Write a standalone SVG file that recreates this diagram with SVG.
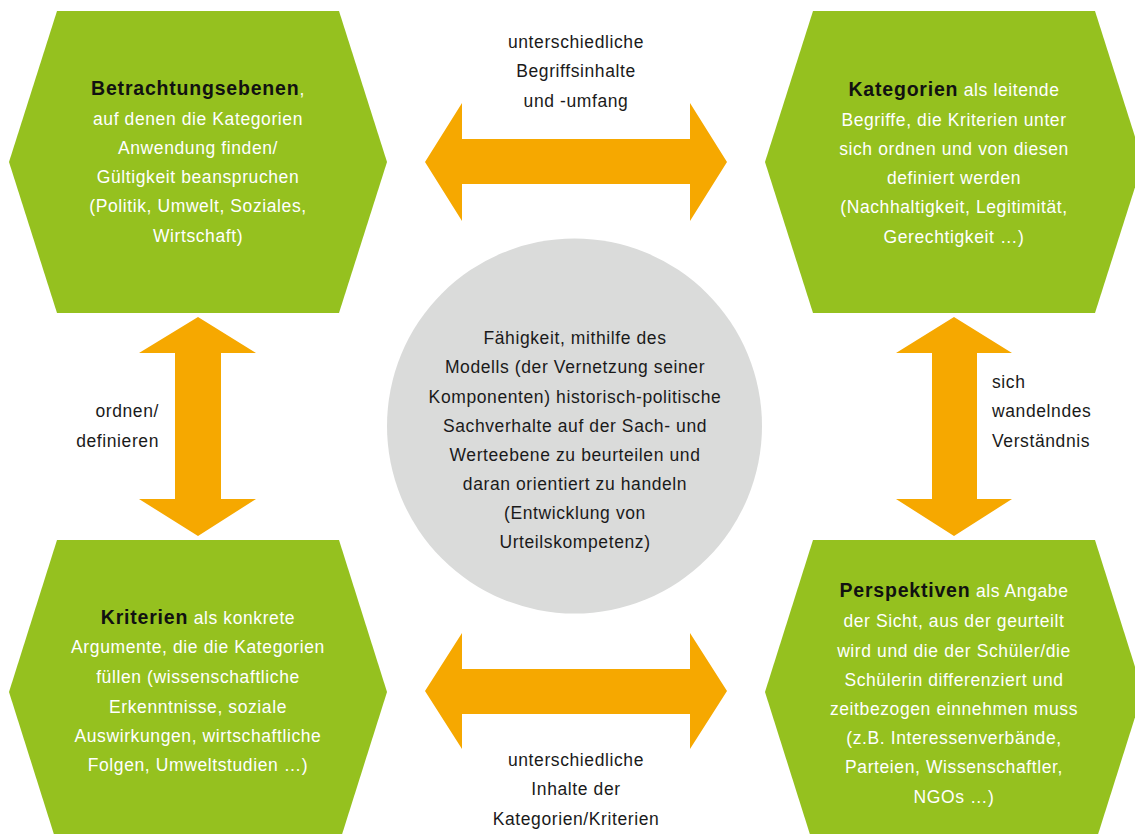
<svg xmlns="http://www.w3.org/2000/svg" width="1135" height="834" viewBox="0 0 1135 834">
<style>
.hex{fill:#95C11F}
.arr{fill:#F6A800}
.t{font-family:"Liberation Sans",Arial,sans-serif;font-size:17.5px;letter-spacing:0.6px;text-anchor:middle}
.w{fill:#ffffff}
.k{fill:#1a1a1a}
.b{font-weight:bold;font-size:19.5px;fill:#111111;letter-spacing:0.8px}
</style>
<rect width="1135" height="834" fill="#ffffff"/>
<g id="connectors">
<polygon class="arr" points="425,162 462,103 462,139 690,139 690,103 727,162 690,221 690,184 462,184 462,221"/>
<polygon class="arr" points="425,691 462,633 462,669 690,669 690,633 727,691 690,749 690,714 462,714 462,749"/>
<polygon class="arr" points="198,317 256,353 221,353 221,499 256,499 198,536 139,499 175,499 175,353 139,353"/>
<polygon class="arr" points="954,317 1012,353 977,353 977,499 1012,499 954,536 896,499 932,499 932,353 896,353"/>
<text class="t k"><tspan x="576" y="48">unterschiedliche</tspan><tspan x="576" y="77">Begriffsinhalte</tspan><tspan x="576" y="107">und -umfang</tspan></text>
<text class="t k"><tspan x="576" y="766">unterschiedliche</tspan><tspan x="576" y="795">Inhalte der</tspan><tspan x="576" y="825">Kategorien/Kriterien</tspan></text>
<text class="t k" style="text-anchor:end"><tspan x="159" y="417">ordnen/</tspan><tspan x="159" y="447">definieren</tspan></text>
<text class="t k" style="text-anchor:start"><tspan x="992" y="388">sich</tspan><tspan x="992" y="417">wandelndes</tspan><tspan x="992" y="447">Verständnis</tspan></text>
</g>
<g id="betrachtungsebenen">
<polygon class="hex" points="57,11 339,11 387,162 339,313 57,313 9,162"/>
<text class="t w"><tspan x="198" y="95"><tspan class="b">Betrachtungsebenen</tspan>,</tspan><tspan x="198" y="125">auf denen die Kategorien</tspan><tspan x="198" y="154">Anwendung finden/</tspan><tspan x="198" y="183">Gültigkeit beanspruchen</tspan><tspan x="198" y="212">(Politik, Umwelt, Soziales,</tspan><tspan x="198" y="242">Wirtschaft)</tspan></text>
</g>
<g id="kategorien">
<polygon class="hex" points="813,11 1095,11 1143,162 1095,313 813,313 765,162"/>
<text class="t w"><tspan x="954" y="96"><tspan class="b">Kategorien</tspan> als leitende</tspan><tspan x="954" y="126">Begriffe, die Kriterien unter</tspan><tspan x="954" y="155">sich ordnen und von diesen</tspan><tspan x="954" y="184">definiert werden</tspan><tspan x="954" y="213">(Nachhaltigkeit, Legitimität,</tspan><tspan x="954" y="243">Gerechtigkeit …)</tspan></text>
</g>
<g id="kriterien">
<polygon class="hex" points="57,540 339,540 387,692 339,844 57,844 9,692"/>
<text class="t w"><tspan x="198" y="624"><tspan class="b">Kriterien</tspan> als konkrete</tspan><tspan x="198" y="653">Argumente, die die Kategorien</tspan><tspan x="198" y="683">füllen (wissenschaftliche</tspan><tspan x="198" y="713">Erkenntnisse, soziale</tspan><tspan x="198" y="742">Auswirkungen, wirtschaftliche</tspan><tspan x="198" y="771">Folgen, Umweltstudien …)</tspan></text>
</g>
<g id="perspektiven">
<polygon class="hex" points="813,540 1095,540 1143,692 1095,844 813,844 765,692"/>
<text class="t w"><tspan x="954" y="597"><tspan class="b">Perspektiven</tspan> als Angabe</tspan><tspan x="954" y="627">der Sicht, aus der geurteilt</tspan><tspan x="954" y="657">wird und die der Schüler/die</tspan><tspan x="954" y="686">Schülerin differenziert und</tspan><tspan x="954" y="715">zeitbezogen einnehmen muss</tspan><tspan x="954" y="744">(z.B. Interessenverbände,</tspan><tspan x="954" y="773">Parteien, Wissenschaftler,</tspan><tspan x="954" y="803">NGOs …)</tspan></text>
</g>
<g id="urteilskompetenz">
<circle cx="574.5" cy="426" r="187.5" fill="#DADBDA"/>
<text class="t k"><tspan x="575" y="344">Fähigkeit, mithilfe des</tspan><tspan x="575" y="373">Modells (der Vernetzung seiner</tspan><tspan x="575" y="403">Komponenten) historisch-politische</tspan><tspan x="575" y="432">Sachverhalte auf der Sach- und</tspan><tspan x="575" y="461">Werteebene zu beurteilen und</tspan><tspan x="575" y="490">daran orientiert zu handeln</tspan><tspan x="575" y="519">(Entwicklung von</tspan><tspan x="575" y="548">Urteilskompetenz)</tspan></text>
</g>
</svg>
